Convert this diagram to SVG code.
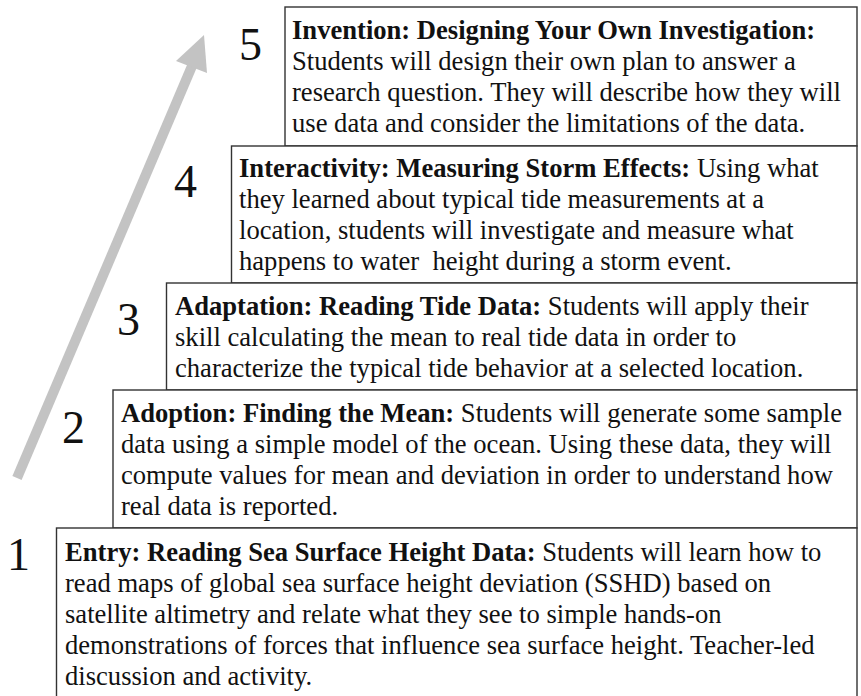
<svg xmlns="http://www.w3.org/2000/svg" width="861" height="696" viewBox="0 0 861 696">
  <style>
    .box { fill: #ffffff; stroke: #333333; stroke-width: 1.4; }
    .txt { font-family: "Liberation Serif", "Times New Roman", serif; font-size: 26.6px; fill: #111111; white-space: pre; }
    .b { font-weight: bold; }
    .num { font-family: "Liberation Serif", "Times New Roman", serif; font-size: 46px; fill: #111111; }
    .arrow { stroke: #c3c3c3; stroke-width: 10; fill: none; }
    .head { fill: #c3c3c3; }
  </style>

  <!-- rising arrow -->
  <g id="connectors">
    <line class="arrow" x1="17" y1="478" x2="192" y2="66"/>
    <polygon class="head" points="204,35 176,61 207,73"/>
  </g>

  <!-- step 5 -->
  <g id="step5">
    <rect class="box" x="285" y="7" width="572" height="139"/>
    <text class="num" x="239" y="60">5</text>
    <text class="txt" x="292" y="39"><tspan class="b">Invention: Designing Your Own Investigation:</tspan></text>
    <text class="txt" x="292" y="70">Students will design their own plan to answer a</text>
    <text class="txt" x="292" y="101">research question. They will describe how they will</text>
    <text class="txt" x="292" y="132">use data and consider the limitations of the data.</text>
  </g>

  <!-- step 4 -->
  <g id="step4">
    <rect class="box" x="231.5" y="146" width="625.5" height="137"/>
    <text class="num" x="174" y="197">4</text>
    <text class="txt" x="239" y="177"><tspan class="b">Interactivity: Measuring Storm Effects:</tspan> Using what</text>
    <text class="txt" x="239" y="208">they learned about typical tide measurements at a</text>
    <text class="txt" x="239" y="239">location, students will investigate and measure what</text>
    <text class="txt" x="239" y="270">happens to water  height during a storm event.</text>
  </g>

  <!-- step 3 -->
  <g id="step3">
    <rect class="box" x="166.5" y="283" width="690.5" height="107"/>
    <text class="num" x="117" y="335">3</text>
    <text class="txt" x="175" y="315"><tspan class="b">Adaptation: Reading Tide Data:</tspan> Students will apply their</text>
    <text class="txt" x="175" y="346">skill calculating the mean to real tide data in order to</text>
    <text class="txt" x="175" y="377">characterize the typical tide behavior at a selected location.</text>
  </g>

  <!-- step 2 -->
  <g id="step2">
    <rect class="box" x="113" y="390" width="744" height="138"/>
    <text class="num" x="62" y="443">2</text>
    <text class="txt" x="121" y="422"><tspan class="b">Adoption: Finding the Mean:</tspan> Students will generate some sample</text>
    <text class="txt" x="121" y="453">data using a simple model of the ocean. Using these data, they will</text>
    <text class="txt" x="121" y="484">compute values for mean and deviation in order to understand how</text>
    <text class="txt" x="121" y="515">real data is reported.</text>
  </g>

  <!-- step 1 -->
  <g id="step1">
    <rect class="box" x="56.5" y="528" width="800.5" height="175"/>
    <text class="num" x="7" y="570">1</text>
    <text class="txt" x="65" y="561"><tspan class="b">Entry: Reading Sea Surface Height Data:</tspan> Students will learn how to</text>
    <text class="txt" x="65" y="592">read maps of global sea surface height deviation (SSHD) based on</text>
    <text class="txt" x="65" y="623">satellite altimetry and relate what they see to simple hands-on</text>
    <text class="txt" x="65" y="654">demonstrations of forces that influence sea surface height. Teacher-led</text>
    <text class="txt" x="65" y="685">discussion and activity.</text>
  </g>
</svg>
